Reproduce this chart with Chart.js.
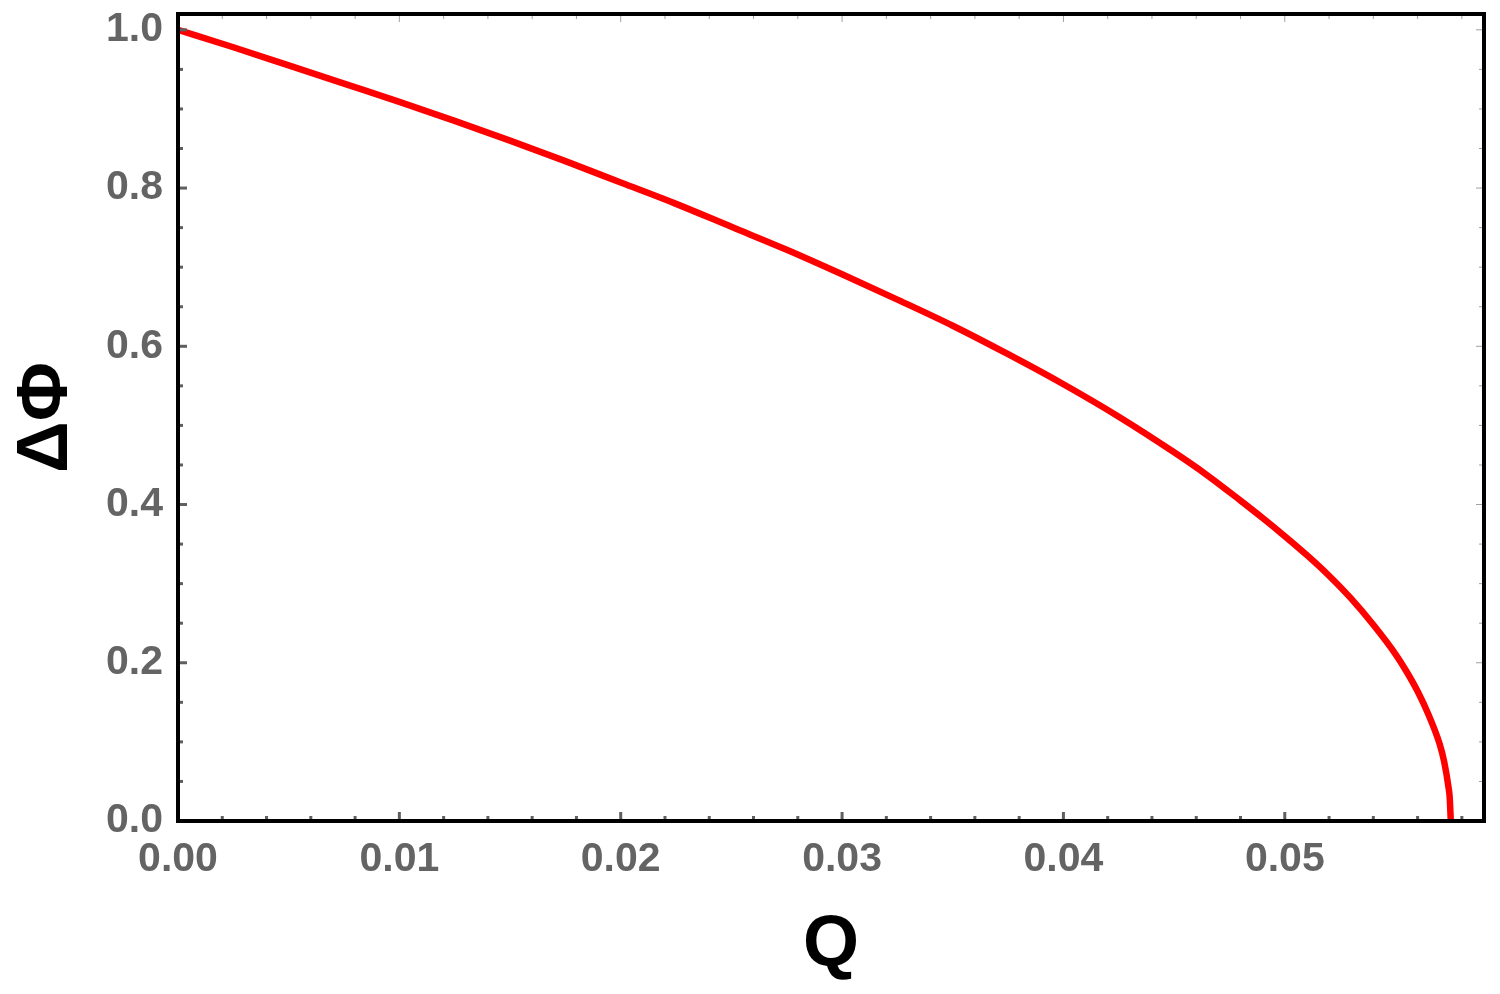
<!DOCTYPE html>
<html>
<head>
<meta charset="utf-8">
<script src="https://cdn.jsdelivr.net/npm/chart.js@4/dist/chart.umd.min.js"></script>
<style>
  html, body { margin: 0; padding: 0; background: #fff; }
  #wrap { width: 1500px; height: 994px; }
</style>
</head>
<body>
<div id="wrap"><canvas id="phaseChart" width="1500" height="994"></canvas></div>
<script>
// values
const qValues = [0, 0.0025, 0.005, 0.0075, 0.010, 0.0125, 0.015, 0.0175, 0.020, 0.0225,
    0.025, 0.0275, 0.030, 0.0325, 0.035, 0.0375, 0.040, 0.0425, 0.045, 0.0465,
    0.048, 0.049, 0.050, 0.051, 0.052, 0.053, 0.054, 0.055, 0.0555, 0.056,
    0.0565, 0.057, 0.0572, 0.0574, 0.05745, 0.0575];
const deltaPhi = [1.000, 0.978, 0.955, 0.932, 0.909, 0.885, 0.860, 0.834, 0.807, 0.780,
    0.751, 0.722, 0.691, 0.659, 0.626, 0.590, 0.552, 0.511, 0.466, 0.437,
    0.405, 0.383, 0.360, 0.336, 0.310, 0.281, 0.248, 0.211, 0.189, 0.164,
    0.134, 0.097, 0.075, 0.042, 0.030, 0.000];

const xTicks = [0, 0.01, 0.02, 0.03, 0.04, 0.05];
const yTicks = [0, 0.2, 0.4, 0.6, 0.8, 1.0];
const xRange = [0, 0.059];
const yRange = [0, 1.02];

// minor tick positions
const xMinor = [];
for (let i = 1; i <= 29; i++) if (i % 5 !== 0) xMinor.push(i * 0.002);
const yMinor = [];
for (let i = 1; i <= 20; i++) if (i % 4 !== 0) yMinor.push(i * 0.05);

const tickFont = { family: '"Liberation Sans", Arial, sans-serif', size: 41, weight: 'bold' };
const titleFont = { family: '"Liberation Sans", Arial, sans-serif', size: 72, weight: 'bold' };

// frame + inward ticks on all four sides
const frameTicks = {
    id: 'frameTicks',
    afterDraw(chart) {
        const ctx = chart.ctx;
        const a = chart.chartArea;
        const xs = chart.scales.x, ys = chart.scales.y;
        ctx.save();
        ctx.lineCap = 'butt';

        function tick(x1, y1, x2, y2) {
            ctx.beginPath();
            ctx.moveTo(x1, y1);
            ctx.lineTo(x2, y2);
            ctx.stroke();
        }

        // bottom / left: dark grey
        ctx.strokeStyle = '#5f5f5f';
        ctx.lineWidth = 3;
        xTicks.forEach(v => { const p = xs.getPixelForValue(v); tick(p, a.bottom, p, a.bottom - 9); });
        yTicks.forEach(v => { const p = ys.getPixelForValue(v); tick(a.left, p, a.left + 9, p); });
        xMinor.forEach(v => { const p = xs.getPixelForValue(v); tick(p, a.bottom, p, a.bottom - 5); });
        yMinor.forEach(v => { const p = ys.getPixelForValue(v); tick(a.left, p, a.left + 5, p); });

        // top / right: light grey
        ctx.strokeStyle = '#a0a0a0';
        ctx.lineWidth = 1;
        xTicks.forEach(v => { const p = xs.getPixelForValue(v); tick(p, a.top, p, a.top + 8); });
        yTicks.forEach(v => { const p = ys.getPixelForValue(v); tick(a.right, p, a.right - 8, p); });
        xMinor.forEach(v => { const p = xs.getPixelForValue(v); tick(p, a.top, p, a.top + 5); });
        yMinor.forEach(v => { const p = ys.getPixelForValue(v); tick(a.right, p, a.right - 5, p); });

        ctx.strokeStyle = '#000';
        ctx.lineWidth = 4;
        ctx.strokeRect(a.left, a.top, a.right - a.left, a.bottom - a.top);
        ctx.restore();
    }
};

new Chart(document.getElementById('phaseChart'), {
    type: 'line',
    data: {
        labels: qValues,
        datasets: [{
            data: qValues.map((q, i) => ({ x: q, y: deltaPhi[i] })),
            borderColor: '#ff0000',
            borderWidth: 6.5,
            pointRadius: 0,
            fill: false,
            cubicInterpolationMode: 'monotone'
        }]
    },
    options: {
        responsive: false,
        animation: false,
        layout: { padding: { top: 14, right: 16, left: 0, bottom: 0 } },
        plugins: {
            legend: { display: false },
            tooltip: { enabled: false }
        },
        scales: {
            x: {
                type: 'linear',
                min: xRange[0],
                max: xRange[1],
                afterFit: s => { s.height = 173; s.paddingLeft = 0; s.paddingRight = 0; },
                afterBuildTicks: s => { s.ticks = xTicks.map(v => ({ value: v })); },
                grid: { display: false },
                border: { display: false },
                ticks: {
                    color: '#646464',
                    font: tickFont,
                    padding: 6,
                    maxRotation: 0,
                    callback: v => v.toFixed(2)
                },
                title: {
                    display: true,
                    text: 'Q',
                    color: '#000',
                    font: titleFont,
                    padding: { top: 0, bottom: 5 }
                }
            },
            y: {
                type: 'linear',
                min: yRange[0],
                max: yRange[1],
                afterFit: s => { s.width = 178; s.paddingTop = 0; s.paddingBottom = 0; },
                afterBuildTicks: s => { s.ticks = yTicks.map(v => ({ value: v })); },
                grid: { display: false },
                border: { display: false },
                ticks: {
                    color: '#646464',
                    font: tickFont,
                    padding: 7,
                    callback: v => v.toFixed(1)
                },
                title: {
                    display: true,
                    text: 'ΔΦ',
                    color: '#000',
                    font: titleFont,
                    padding: { top: 4, bottom: 0 }
                }
            }
        }
    },
    plugins: [frameTicks]
});
</script>
</body>
</html>
